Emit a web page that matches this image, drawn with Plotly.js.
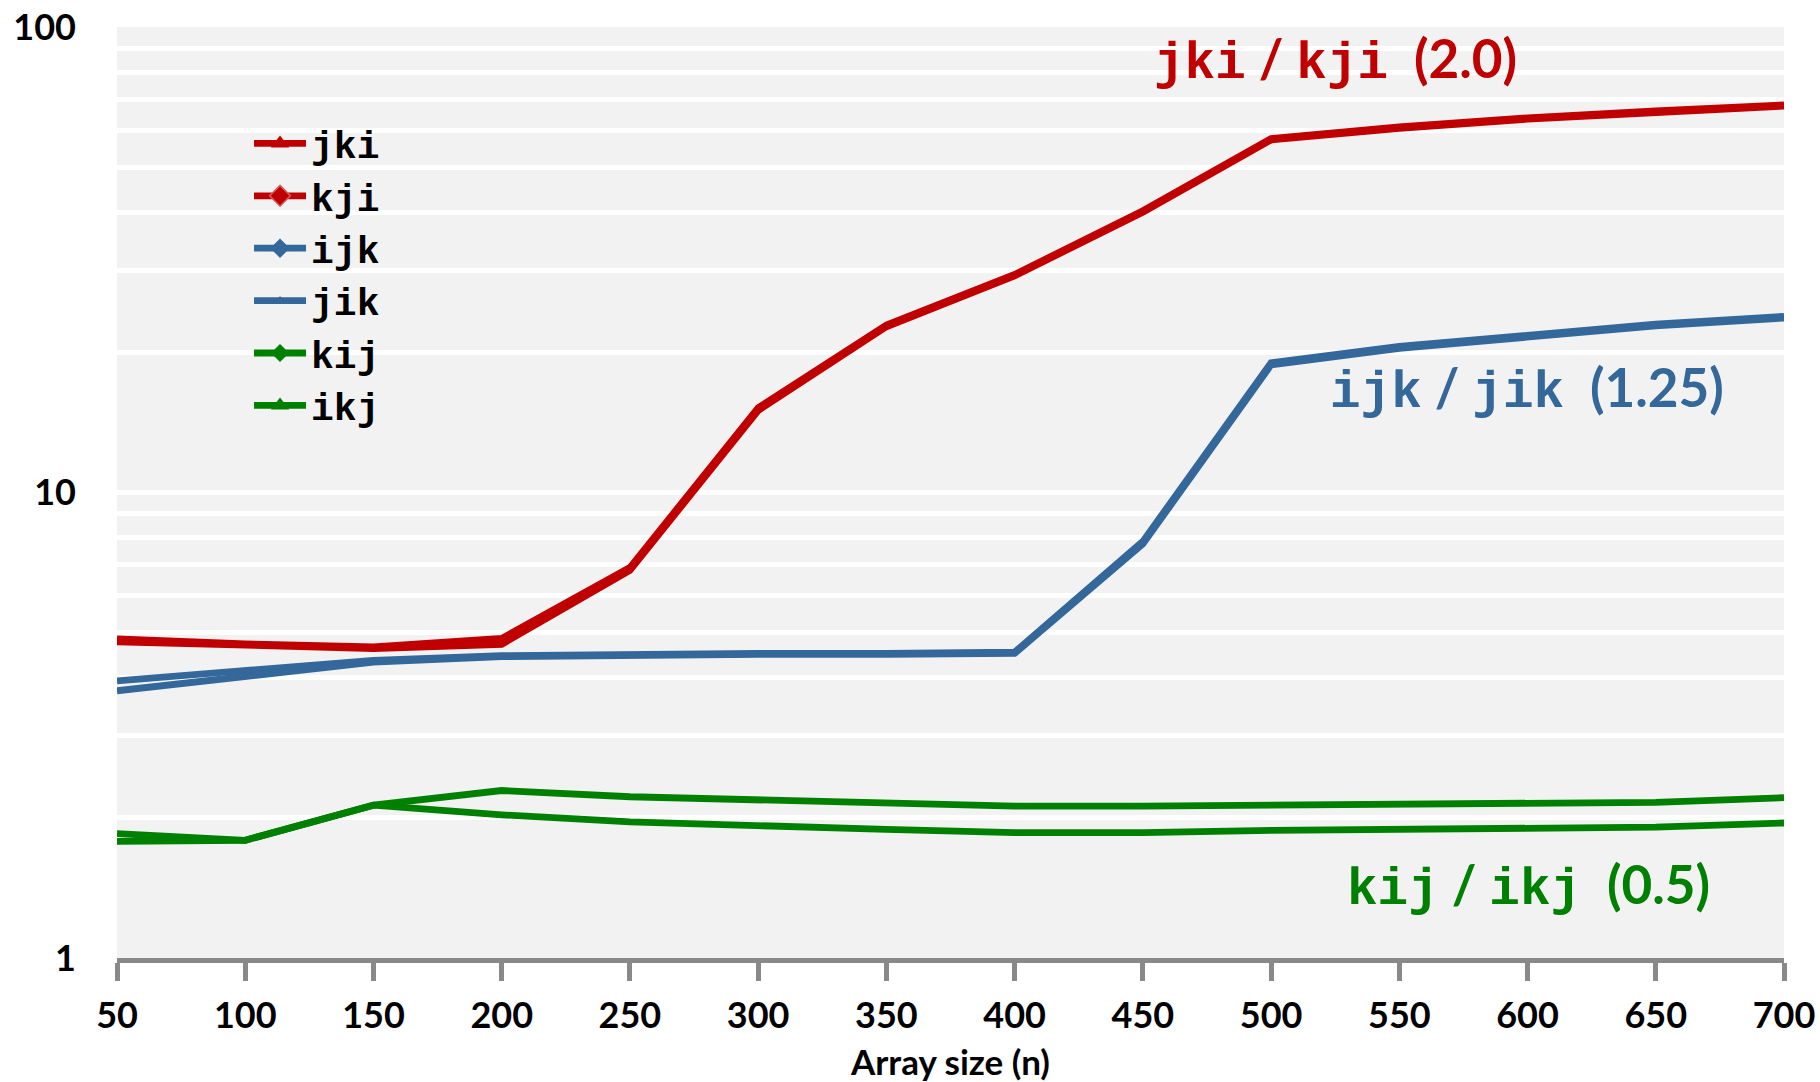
<!DOCTYPE html>
<html>
<head>
<meta charset="utf-8">
<script src="https://cdn.plot.ly/plotly-3.0.1.min.js"></script>
<style>
  html, body { margin: 0; padding: 0; background: #ffffff; }
  #chart { width: 1820px; height: 1082px; }
</style>
</head>
<body>
<div id="chart"></div>
<script>
// ---- data ----
var sizes = [50, 100, 150, 200, 250, 300, 350, 400, 450, 500, 550, 600, 650, 700];

var jki = [4.85, 4.73, 4.66, 4.86, 6.90, 15.2, 22.9, 29.4, 40.3, 57.6, 61.0, 63.8, 66.0, 68.0];
var kji = [4.78, 4.68, 4.62, 4.72, 6.80, 15.0, 22.7, 29.2, 40.0, 57.2, 60.6, 63.4, 65.6, 67.6];
var ijk = [3.94, 4.15, 4.36, 4.46, 4.49, 4.51, 4.51, 4.54, 7.85, 19.0, 20.6, 21.8, 23.0, 23.9];
var jik = [3.75, 4.04, 4.32, 4.44, 4.47, 4.49, 4.49, 4.51, 7.75, 18.8, 20.4, 21.6, 22.8, 23.7];
var kij = [1.85, 1.79, 2.13, 2.29, 2.22, 2.19, 2.15, 2.12, 2.12, 2.13, 2.13, 2.14, 2.16, 2.21];
var ikj = [1.78, 1.79, 2.13, 2.03, 1.96, 1.92, 1.89, 1.86, 1.86, 1.88, 1.89, 1.90, 1.91, 1.95];

var seriesNames = ['jki', 'kji', 'ijk', 'jik', 'kij', 'ikj'];

var xTickVals = [50, 100, 150, 200, 250, 300, 350, 400, 450, 500, 550, 600, 650, 700];
var yTickVals = [1, 2, 3, 4, 5, 6, 7, 8, 9, 10, 20, 30, 40, 50, 60, 70, 80, 90, 100];
var yTickText = ['1', '', '', '', '', '', '', '', '', '10', '', '', '', '', '', '', '', '', '100'];

var xTitle = 'Array size (n)';
var noteRed = ['jki', 'kji', '(2.0)'];
var noteBlue = ['ijk', 'jik', '(1.25)'];
var noteGreen = ['kij', 'ikj', '(0.5)'];

// ---- styles ----
var RED = '#C00000', BLUE = '#34679A', GREEN = '#008000';
var MONO = 'Liberation Mono, DejaVu Sans Mono, monospace';
var SANS = 'Lato, Open Sans, sans-serif';

function series(name, y, color, symbol, msize, mline) {
  return {
    type: 'scatter', mode: 'lines+markers', name: name,
    x: sizes, y: y,
    line: { color: color, width: 6.8 },
    marker: { symbol: symbol, size: msize, color: color,
              line: mline || { width: 0, color: color } },
    selectedpoints: [],
    unselected: { marker: { opacity: 0 } },
    hoverinfo: 'x+y+name'
  };
}

var data = [
  series(seriesNames[0], jki, RED, 'triangle-up', 16),
  series(seriesNames[1], kji, RED, 'diamond', 16, { width: 1.5, color: '#D86060' }),
  series(seriesNames[2], ijk, BLUE, 'diamond', 15),
  series(seriesNames[3], jik, BLUE, 'triangle-up', 9),
  series(seriesNames[4], kij, GREEN, 'diamond', 14),
  series(seriesNames[5], ikj, GREEN, 'triangle-up', 16)
];

function note(parts, color, x, y) {
  var mono = '<span style="font-family:' + MONO + ';font-size:51px">';
  return {
    xref: 'paper', yref: 'paper', x: x, y: y,
    xanchor: 'center', yanchor: 'middle', showarrow: false,
    text: mono + parts[0] + '</span>&nbsp;/&nbsp;' + mono + parts[1] + '</span>&nbsp;&nbsp;' + parts[2],
    font: { family: SANS, size: 53, color: color, weight: 'bold' }
  };
}

var layout = {
  width: 1820, height: 1082,
  margin: { l: 117, r: 36, t: 27, b: 124, pad: 0 },
  paper_bgcolor: '#ffffff',
  plot_bgcolor: '#F2F2F2',
  showlegend: true,
  legend: {
    x: 0.0792, y: 0.9085, xanchor: 'left', yanchor: 'top',
    bgcolor: 'rgba(0,0,0,0)', borderwidth: 0,
    font: { family: MONO, size: 38, color: '#000000', weight: 'bold' },
    itemwidth: 52, tracegroupgap: 0
  },
  xaxis: {
    range: [50, 700], tickvals: xTickVals,
    showgrid: false, zeroline: false,
    showline: true, linecolor: '#898989', linewidth: 5,
    ticks: 'outside', ticklen: 18, tickwidth: 5, tickcolor: '#898989',
    ticklabelstandoff: 4,
    tickfont: { family: SANS, size: 36, color: '#000000', weight: 'bold' },
    title: { text: xTitle, font: { family: SANS, size: 35, color: '#000000', weight: 'bold' }, standoff: 18 }
  },
  yaxis: {
    type: 'log', range: [0, 2],
    tickvals: yTickVals, ticktext: yTickText,
    showgrid: true, gridcolor: '#FFFFFF', gridwidth: 5,
    zeroline: false, showline: false, ticks: '',
    ticklabelstandoff: 40,
    tickfont: { family: SANS, size: 36, color: '#000000', weight: 'bold' }
  },
  annotations: [
    note(noteRed, RED, 0.7307, 0.9656),
    note(noteBlue, BLUE, 0.8458, 0.6122),
    note(noteGreen, GREEN, 0.8470, 0.0784)
  ]
};

Plotly.newPlot('chart', data, layout, { displayModeBar: false, staticPlot: true });
</script>
</body>
</html>
